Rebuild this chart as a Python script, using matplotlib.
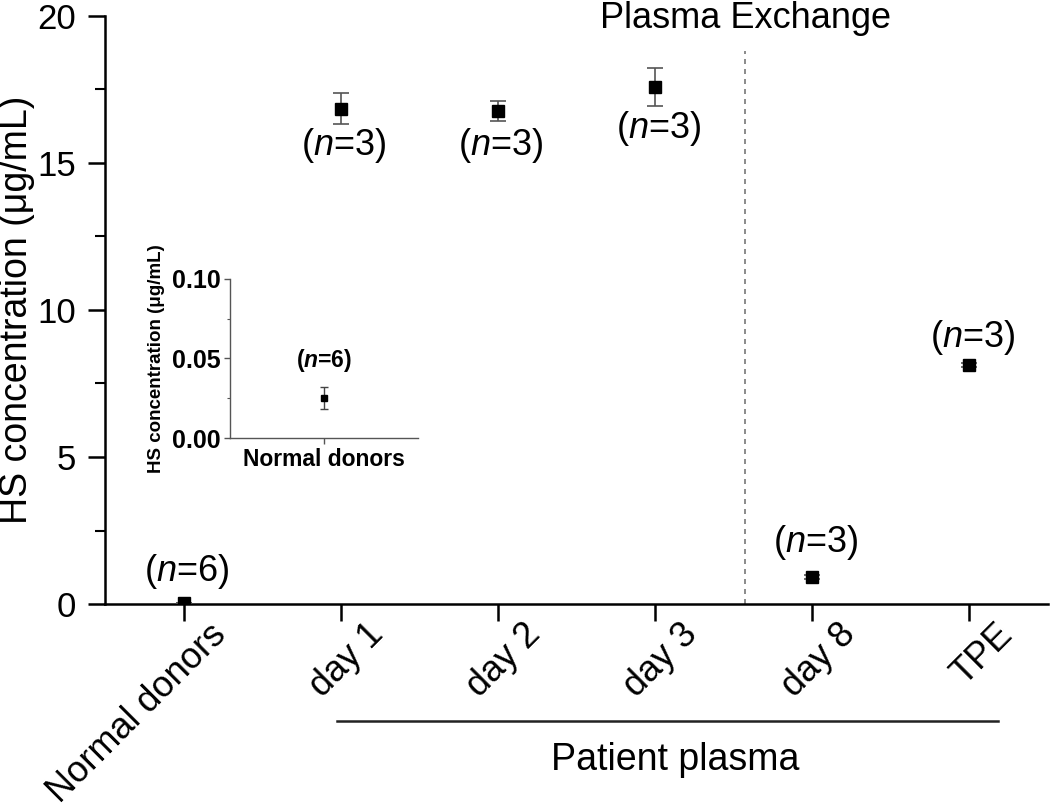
import matplotlib
matplotlib.use("Agg")
import matplotlib.pyplot as plt
from matplotlib.ticker import MultipleLocator
import matplotlib.transforms as mtransforms

plt.rcParams['font.family'] = ['Liberation Sans', 'DejaVu Sans']
plt.rcParams['mathtext.fontset'] = 'custom'
plt.rcParams['mathtext.rm'] = 'Liberation Sans'
plt.rcParams['mathtext.it'] = 'Liberation Sans:italic'
plt.rcParams['mathtext.bf'] = 'Liberation Sans:bold'
plt.rcParams['mathtext.bfit'] = 'Liberation Sans:italic:bold'

# ---- data ----
categories = ['Normal donors', 'day 1', 'day 2', 'day 3', 'day 8', 'TPE']
means = [0.025, 16.85, 16.77, 17.59, 0.92, 8.13]
errors = [0.007, 0.53, 0.35, 0.65, 0.08, 0.08]
n_values = [6, 3, 3, 3, 3, 3]
n_label_y = [1.09, 15.6, 15.58, 16.16, 2.1, 9.05]
y_ticks = [0, 5, 10, 15, 20]

inset_category = ['Normal donors']
inset_mean = [0.025]
inset_error = [0.0068]
inset_n = [6]
inset_ticks = [0.00, 0.05, 0.10]

W, H = 1050, 805
fig = plt.figure(figsize=(W / 100, H / 100), dpi=100)

def px_axes(left, top, right, bottom):
    return [left / W, (H - bottom) / H, (right - left) / W, (bottom - top) / H]

ax = fig.add_axes(px_axes(105, 16, 1048, 604))
x = list(range(len(categories)))
ax.errorbar(x, means, yerr=errors, fmt='s', color='black', markersize=8.5,
            ecolor='#555555', elinewidth=1.2, capsize=6, capthick=1.2, zorder=3)
for xi, yi, n in zip(x, n_label_y, n_values):
    ax.text(xi + 0.02, yi, '(' + r'$\mathit{n}$' + f'={n})', ha='center', va='center',
            fontsize=26)

ax.set_xlim(-0.5, 5.5)
ax.set_ylim(0, 20)
ax.set_yticks(y_ticks)
ax.yaxis.set_minor_locator(MultipleLocator(2.5))
ax.set_xticks(x)
ax.tick_params(axis='x', labelbottom=False)

# rotated category labels, anchored at the tick positions
xlab_trans = (mtransforms.blended_transform_factory(ax.transData, ax.transAxes)
              + mtransforms.ScaledTranslation(25 / 100, -13 / 100, fig.dpi_scale_trans))
for xi, cat in zip(x, categories):
    ax.text(xi, 0, cat, rotation=45, ha='right', va='top', rotation_mode='anchor',
            fontsize=26, transform=xlab_trans, clip_on=False)

ax.tick_params(axis='both', which='major', direction='out', length=12, width=1.8,
               labelsize=25, pad=9)
ax.tick_params(axis='y', which='minor', direction='out', length=7, width=1.5)
for s in ['top', 'right']:
    ax.spines[s].set_visible(False)
for s in ['left', 'bottom']:
    ax.spines[s].set_linewidth(1.8)
ax.set_ylabel('HS concentration (μg/mL)', fontsize=27)
ax.yaxis.set_label_coords(-0.074, 0.5)

# plasma exchange separator
ax.vlines(3.575, 0, 18.8, colors='#777777', linestyles=(0, (3, 3)), linewidth=1.2)
ax.text(3.575, 19.9, 'Plasma Exchange', ha='center', va='center', fontsize=26)

# patient plasma bracket
trans = mtransforms.blended_transform_factory(ax.transData, ax.transAxes)
ax.plot([0.973, 5.18], [-0.199, -0.199], color='#222222', linewidth=1.8,
        transform=trans, clip_on=False)
ax.text(3.13, -0.266, 'Patient plasma', ha='center', va='center', fontsize=27,
        transform=trans)

# ---- inset ----
ins = fig.add_axes(px_axes(230, 279, 418, 438))
ins.errorbar([0], inset_mean, yerr=inset_error, fmt='s', color='black', markersize=5,
             ecolor='#444444', elinewidth=1.0, capsize=3, capthick=1.0)
ins.text(0, 0.049, '(' + r'$\mathbfit{n}$' + f'={inset_n[0]})', ha='center', va='center',
         fontsize=16.5, fontweight='bold')
ins.set_xlim(-1, 1)
ins.set_ylim(0, 0.10)
ins.set_xticks([0])
ins.set_xticklabels(inset_category, fontsize=16.5, fontweight='bold')
ins.set_yticks(inset_ticks)
ins.set_yticklabels([f'{t:.2f}' for t in inset_ticks], fontsize=18, fontweight='bold')
ins.yaxis.set_minor_locator(MultipleLocator(0.025))
ins.tick_params(axis='both', which='major', direction='out', length=4, width=1.0,
                color='#555555', pad=3)
ins.tick_params(axis='y', which='minor', direction='out', length=2, width=0.8,
                color='#555555')
for s in ['top', 'right']:
    ins.spines[s].set_visible(False)
for s in ['left', 'bottom']:
    ins.spines[s].set_linewidth(1.0)
    ins.spines[s].set_color('#555555')
ins.set_ylabel('HS concentration (μg/mL)', fontsize=13.5, fontweight='bold', labelpad=5)
ins.patch.set_alpha(0)

fig.savefig('out.png', dpi=100)
